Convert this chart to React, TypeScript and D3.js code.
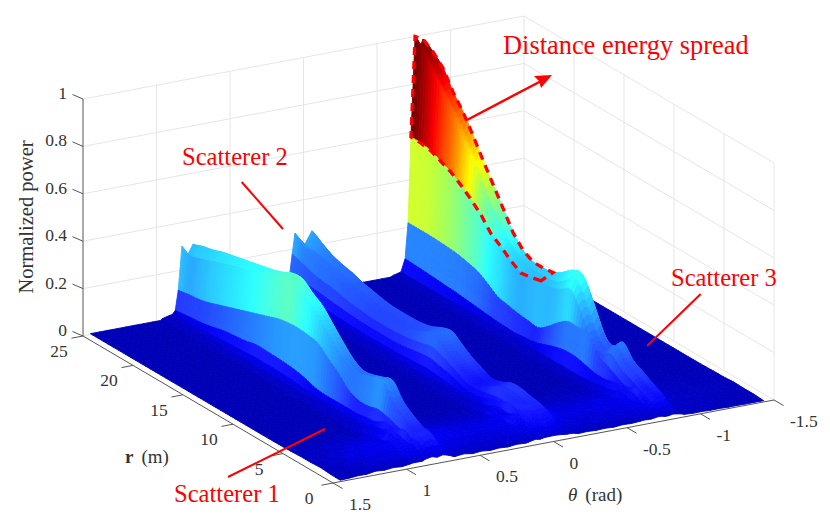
import { useEffect, useRef } from 'react'
import * as d3 from 'd3'

const rTicks = [0, 5, 10, 15, 20, 25]
const thetaTicks = [1.5, 1, 0.5, 0, -0.5, -1, -1.5]
const powerTicks = [0, 0.2, 0.4, 0.6, 0.8, 1]
const thetaTickLabels = ['1.5', '1', '0.5', '0', '-0.5', '-1', '-1.5']

// every profile below is one value per metre, r = 0 ... 25
const rGrid = [0, 1, 2, 3, 4, 5, 6, 7, 8, 9, 10, 11, 12, 13, 14, 15, 16, 17, 18, 19, 20, 21, 22, 23, 24, 25]

const s3Back = [0.012, 0.06, 0.1, 0.125, 0.15, 0.2, 0.16, 0.194, 0.3, 0.384, 0.38, 0.346, 0.32, 0.315, 0.316, 0.34, 0.39, 0.468, 0.544, 0.62, 0.7, 0.774, 0.834, 0.91, 0.954, 0.983]
const s3Notch = [0.01, 0.05, 0.09, 0.115, 0.14, 0.185, 0.145, 0.175, 0.27, 0.36, 0.335, 0.305, 0.295, 0.295, 0.305, 0.325, 0.365, 0.425, 0.495, 0.59, 0.67, 0.75, 0.81, 0.87, 0.93, 0.935]
const s3Front = [0.01, 0.05, 0.09, 0.12, 0.145, 0.19, 0.15, 0.18, 0.28, 0.37, 0.34, 0.31, 0.3, 0.3, 0.31, 0.33, 0.37, 0.43, 0.5, 0.6, 0.68, 0.76, 0.82, 0.89, 0.955, 1]
const s3Upper = [0.01, 0.04, 0.075, 0.1, 0.12, 0.16, 0.135, 0.17, 0.26, 0.33, 0.31, 0.29, 0.295, 0.285, 0.278, 0.305, 0.34, 0.37, 0.425, 0.465, 0.5, 0.53, 0.55, 0.57, 0.578, 0.58]
const s3Mid = [0.01, 0.03, 0.055, 0.07, 0.085, 0.11, 0.13, 0.2, 0.2, 0.2, 0.17, 0.13, 0.1, 0.105, 0.11, 0.12, 0.13, 0.16, 0.187, 0.2, 0.21, 0.215, 0.218, 0.22, 0.22, 0.22]
const s3Lower = [0.008, 0.018, 0.03, 0.04, 0.045, 0.05, 0.055, 0.07, 0.08, 0.08, 0.07, 0.055, 0.04, 0.035, 0.03, 0.032, 0.035, 0.04, 0.045, 0.05, 0.055, 0.058, 0.062, 0.065, 0.068, 0.07]

const s2Back = [0.012, 0.03, 0.06, 0.105, 0.115, 0.115, 0.095, 0.085, 0.105, 0.125, 0.155, 0.185, 0.175, 0.155, 0.145, 0.142, 0.142, 0.143, 0.15, 0.16, 0.17, 0.185, 0.195, 0.21, 0.235, 0.262]
const s2Notch = [0.01, 0.026, 0.05, 0.095, 0.105, 0.105, 0.086, 0.077, 0.095, 0.115, 0.145, 0.175, 0.165, 0.145, 0.135, 0.132, 0.132, 0.133, 0.14, 0.15, 0.16, 0.175, 0.185, 0.195, 0.205, 0.21]
const s2Front = [0.012, 0.028, 0.055, 0.1, 0.11, 0.11, 0.09, 0.08, 0.1, 0.12, 0.15, 0.18, 0.17, 0.15, 0.14, 0.137, 0.137, 0.138, 0.145, 0.155, 0.165, 0.18, 0.19, 0.2, 0.215, 0.266]
const s2Upper = [0.01, 0.022, 0.045, 0.075, 0.085, 0.08, 0.07, 0.065, 0.08, 0.1, 0.12, 0.135, 0.125, 0.115, 0.108, 0.105, 0.105, 0.105, 0.11, 0.115, 0.125, 0.135, 0.14, 0.15, 0.165, 0.18]
const s2Mid = [0.008, 0.018, 0.035, 0.05, 0.055, 0.05, 0.045, 0.045, 0.055, 0.07, 0.08, 0.09, 0.085, 0.078, 0.072, 0.07, 0.07, 0.07, 0.072, 0.075, 0.08, 0.085, 0.09, 0.095, 0.1, 0.105]
const s2Lower = [0.006, 0.012, 0.02, 0.025, 0.028, 0.028, 0.025, 0.025, 0.03, 0.035, 0.04, 0.045, 0.043, 0.04, 0.038, 0.036, 0.036, 0.036, 0.037, 0.038, 0.04, 0.042, 0.044, 0.046, 0.05, 0.055]

const s1Back = [0.015, 0.06, 0.1, 0.125, 0.16, 0.22, 0.21, 0.195, 0.19, 0.215, 0.26, 0.31, 0.36, 0.39, 0.425, 0.425, 0.405, 0.39, 0.38, 0.37, 0.36, 0.35, 0.34, 0.325, 0.315, 0.3]
const s1Notch = [0.014, 0.055, 0.095, 0.12, 0.155, 0.215, 0.205, 0.19, 0.19, 0.215, 0.26, 0.31, 0.36, 0.39, 0.43, 0.42, 0.4, 0.38, 0.36, 0.345, 0.33, 0.315, 0.3, 0.285, 0.27, 0.255]
const s1Front = [0.015, 0.06, 0.1, 0.13, 0.165, 0.235, 0.22, 0.205, 0.2, 0.225, 0.27, 0.318, 0.365, 0.4, 0.44, 0.43, 0.41, 0.39, 0.37, 0.355, 0.34, 0.325, 0.31, 0.29, 0.27, 0.3]
const s1Upper = [0.012, 0.045, 0.07, 0.085, 0.1, 0.11, 0.1, 0.1, 0.12, 0.165, 0.2, 0.24, 0.25, 0.255, 0.253, 0.245, 0.23, 0.215, 0.2, 0.185, 0.17, 0.155, 0.14, 0.13, 0.125, 0.118]
const s1Mid = [0.01, 0.025, 0.04, 0.045, 0.05, 0.05, 0.05, 0.05, 0.05, 0.05, 0.05, 0.055, 0.07, 0.08, 0.085, 0.088, 0.09, 0.09, 0.08, 0.075, 0.07, 0.06, 0.05, 0.045, 0.04, 0.035]
const s1Lower = [0.008, 0.016, 0.025, 0.028, 0.03, 0.03, 0.03, 0.028, 0.028, 0.028, 0.028, 0.03, 0.035, 0.04, 0.042, 0.044, 0.044, 0.044, 0.04, 0.038, 0.035, 0.03, 0.027, 0.025, 0.022, 0.02]

const footLevel = [0.008, 0.014, 0.018, 0.02, 0.022, 0.022, 0.022, 0.022, 0.022, 0.022, 0.02, 0.02, 0.02, 0.02, 0.02, 0.02, 0.02, 0.02, 0.02, 0.02, 0.018, 0.018, 0.018, 0.018, 0.018, 0.018]
const toeLevel = [0.006, 0.008, 0.01, 0.01, 0.01, 0.01, 0.01, 0.01, 0.01, 0.01, 0.01, 0.01, 0.01, 0.01, 0.01, 0.01, 0.01, 0.01, 0.01, 0.01, 0.01, 0.01, 0.01, 0.01, 0.01, 0.01]
const floorLevel = 0.004

// near-field ripple across theta, theta = -1.43 ... 1.45
const rippleEven = [0.004, 0.006, 0.005, 0.008, 0.006, 0.012, 0.01, 0.016, 0.014, 0.022, 0.03, 0.024, 0.038, 0.03, 0.042, 0.034, 0.04, 0.028, 0.036, 0.03, 0.038, 0.032, 0.046, 0.036, 0.05, 0.04, 0.052, 0.036, 0.044, 0.03, 0.04, 0.028, 0.042, 0.03, 0.05, 0.036, 0.056, 0.04, 0.058, 0.044, 0.05, 0.034, 0.044, 0.03, 0.04, 0.02, 0.022, 0.012, 0.006]
const rippleOdd = [0.006, 0.004, 0.008, 0.005, 0.011, 0.008, 0.015, 0.011, 0.02, 0.016, 0.024, 0.034, 0.026, 0.04, 0.03, 0.044, 0.03, 0.038, 0.026, 0.036, 0.028, 0.044, 0.03, 0.05, 0.034, 0.054, 0.036, 0.048, 0.028, 0.042, 0.026, 0.04, 0.028, 0.048, 0.032, 0.054, 0.036, 0.06, 0.04, 0.054, 0.036, 0.048, 0.03, 0.042, 0.024, 0.028, 0.012, 0.014, 0.004]
const rippleByRange = [0.3, 0.7, 1, 0.9, 0.6, 0.3, 0.1]

const s1Theta = 0.752
const s2Theta = -0.058
const s3Theta = -0.813
const s1Offsets = [0.075, 0.04, 0.1, 0.12, 0.14, 0.16, 0.21]
const s2Offsets = [0.116, 0.05, 0.135, 0.15, 0.163, 0.18, 0.23]
const s3Offsets = [0.054, 0.03, 0.082, 0.102, 0.122, 0.15, 0.2]

const surfaceThetaMin = -1.43
const surfaceThetaMax = 1.45
const floorStep = 0.06

const corner = { x: 333, y: 483 }
const thetaAxis = d3.scaleLinear().domain([1.5, -1.5]).range([0, 1])
const rAxis = d3.scaleLinear().domain([0, 25]).range([0, 1])
const powerAxis = d3.scaleLinear().domain([0, 1]).range([0, 237])
const thetaVec = { x: 441, y: -83 }
const rVec = { x: -250, y: -147 }

const project = (theta: number, r: number, z: number): [number, number] => {
  const t = thetaAxis(theta)
  const q = rAxis(r)
  return [corner.x + t * thetaVec.x + q * rVec.x, corner.y + t * thetaVec.y + q * rVec.y - powerAxis(z)]
}

const jet = d3
  .scaleLinear<string>()
  .domain([0, 0.125, 0.375, 0.625, 0.875, 1])
  .range(['#000080', '#0000ff', '#00ffff', '#ffff00', '#ff0000', '#700000'])
  .clamp(true)
const colorValue = d3.scaleLinear().domain([0, 0.02, 0.05, 0.1, 0.3, 1]).range([0.05, 0.07, 0.11, 0.135, 0.3, 1])
const whiteMix = d3.scaleLinear().domain([0.05, 0.12, 0.4, 0.55]).range([0, 0.14, 0.18, 0]).clamp(true)

const faceColor = (z: number) => d3.interpolateRgb(jet(colorValue(z)), '#ffffff')(whiteMix(z))

type Column = { theta: number; level: number[] | null }

function ridgeColumns(theta: number, o: number[], back: number[], notch: number[], front: number[], upper: number[], mid: number[], lower: number[]): Column[] {
  return [
    { theta: theta - 0.07, level: toeLevel },
    { theta: theta - 0.04, level: lower },
    { theta: theta - 0.018, level: upper },
    { theta, level: back },
    { theta: theta + o[1], level: notch },
    { theta: theta + o[0], level: front },
    { theta: theta + o[2], level: upper },
    { theta: theta + o[3], level: mid },
    { theta: theta + o[4], level: lower },
    { theta: theta + o[5], level: footLevel },
    { theta: theta + o[6], level: toeLevel },
  ]
}

const ridges = [
  ridgeColumns(s1Theta, s1Offsets, s1Back, s1Notch, s1Front, s1Upper, s1Mid, s1Lower),
  ridgeColumns(s2Theta, s2Offsets, s2Back, s2Notch, s2Front, s2Upper, s2Mid, s2Lower),
  ridgeColumns(s3Theta, s3Offsets, s3Back, s3Notch, s3Front, s3Upper, s3Mid, s3Lower),
]

const floorColumns: Column[] = d3
  .range(surfaceThetaMin, surfaceThetaMax + 0.001, floorStep)
  .filter((t) => !ridges.some((cols) => t >= cols[0].theta && t <= cols[cols.length - 1].theta))
  .map((theta) => ({ theta, level: null }))

const columns = [...floorColumns, ...ridges.flat()].sort((a, b) => a.theta - b.theta)

function heightAt(col: Column, rowIdx: number) {
  const row = Math.max(0, Math.min(rGrid.length - 1, rowIdx))
  const base = col.level ? col.level[row] : floorLevel
  if (row >= rippleByRange.length || base > 0.06) return base
  const idx = Math.max(0, Math.min(rippleEven.length - 1, Math.round((col.theta - surfaceThetaMin) / floorStep)))
  const ripple = row % 2 ? rippleOdd[idx] : rippleEven[idx]
  return base + ripple * rippleByRange[row]
}

// smooth drawing between the rows, the rows themselves stay as read
function heightBetween(col: Column, j: number, f: number) {
  const p0 = heightAt(col, j - 1)
  const p1 = heightAt(col, j)
  const p2 = heightAt(col, j + 1)
  const p3 = heightAt(col, j + 2)
  const v = 0.5 * (2 * p1 + (p2 - p0) * f + (2 * p0 - 5 * p1 + 4 * p2 - p3) * f * f + (3 * p1 - p0 - 3 * p2 + p3) * f * f * f)
  return Math.max(0.002, v)
}

const SurfaceChart = () => {
  const svgRef = useRef<SVGSVGElement>(null)

  useEffect(() => {
    if (!svgRef.current) return
    const svg = d3.select(svgRef.current)
    svg.selectAll('*').remove()

    const line = d3.line()
    const gridColor = '#e6e6e6'
    const axisColor = '#555555'

    // back walls
    const walls = svg.append('g').attr('stroke', gridColor).attr('fill', 'none')
    powerTicks.forEach((p) => {
      walls.append('path').attr('d', line([project(1.5, 25, p), project(-1.5, 25, p), project(-1.5, 0, p)]))
    })
    thetaTicks.slice(1).forEach((t) => {
      walls.append('path').attr('d', line([project(t, 25, 0), project(t, 25, 1)]))
    })
    rTicks.slice(1, -1).concat(0).forEach((r) => {
      walls.append('path').attr('d', line([project(-1.5, r, 0), project(-1.5, r, 1)]))
    })

    // surface, far to near
    const surface = svg.append('g')
    for (let j = rGrid.length - 2; j >= 0; j--) {
      const steps = 4
      for (let s = steps - 1; s >= 0; s--) {
        const f0 = s / steps
        const f1 = (s + 1) / steps
        const fm = (f0 + f1) / 2
        const r0 = rGrid[j] + f0
        const r1 = rGrid[j] + f1
        for (let i = 0; i < columns.length - 1; i++) {
          const a = columns[i]
          const b = columns[i + 1]
          const top = Math.max(heightBetween(a, j, fm), heightBetween(b, j, fm))
          const color = faceColor(top)
          surface
            .append('path')
            .attr('d', line([project(a.theta, r0, heightBetween(a, j, f0)), project(b.theta, r0, heightBetween(b, j, f0)), project(b.theta, r1, heightBetween(b, j, f1)), project(a.theta, r1, heightBetween(a, j, f1))]) + 'Z')
            .attr('fill', color)
            .attr('stroke', color)
            .attr('stroke-width', 0.9)
            .attr('stroke-linejoin', 'round')
        }
      }
    }

    // axes
    const axes = svg.append('g').attr('stroke', axisColor).attr('fill', 'none')
    axes.append('path').attr('d', line([project(1.5, 25, 1), project(1.5, 25, 0), project(1.5, 0, 0), project(-1.5, 0, 0)]))
    powerTicks.forEach((p) => {
      const [x, y] = project(1.5, 25, p)
      axes.append('path').attr('d', line([[x, y], [x - 10.5, y - 4.5]]))
    })
    rTicks.forEach((r) => {
      const [x, y] = project(1.5, r, 0)
      axes.append('path').attr('d', line([[x, y], [x - 11.5, y + 2.2]]))
    })
    thetaTicks.forEach((t) => {
      const [x, y] = project(t, 0, 0)
      axes.append('path').attr('d', line([[x, y], [x + 9.5, y + 5.5]]))
    })

    const labels = svg.append('g').style('font-family', '"Liberation Serif", serif').style('font-size', '17.5px').attr('fill', '#333333')
    powerTicks.forEach((p) => {
      const [x, y] = project(1.5, 25, p)
      labels.append('text').attr('x', x - 16).attr('y', y + 0).attr('text-anchor', 'end').text(String(p))
    })
    rTicks.forEach((r) => {
      const [x, y] = project(1.5, r, 0)
      labels.append('text').attr('x', x - 24).attr('y', y + 21).attr('text-anchor', 'middle').text(String(r))
    })
    thetaTicks.forEach((t, i) => {
      const [x, y] = project(t, 0, 0)
      labels.append('text').attr('x', x + 16).attr('y', y + 27).text(thetaTickLabels[i])
    })
    labels
      .append('text')
      .attr('transform', 'translate(33,217) rotate(-90)')
      .attr('text-anchor', 'middle')
      .style('font-size', '20.5px')
      .text('Normalized power')
    const rLabel = labels.append('text').attr('x', 125).attr('y', 463).style('font-size', '19px')
    rLabel.append('tspan').style('font-weight', 700).text('r')
    rLabel.append('tspan').attr('dx', 8).text('(m)')
    const thetaLabel = labels.append('text').attr('x', 568).attr('y', 501).style('font-size', '19px')
    thetaLabel.append('tspan').style('font-style', 'italic').text('θ')
    thetaLabel.append('tspan').attr('dx', 8).text('(rad)')

    // annotations
    const notes = svg.append('g').attr('stroke', '#ff0000').attr('fill', 'none').attr('stroke-width', 2)
    notes.append('path').attr('d', line([[241.7, 182], [283, 229]]))
    notes.append('path').attr('d', line([[228, 477], [325, 429]]))
    notes.append('path').attr('d', line([[700.7, 294], [647, 346]]))
    notes.append('path').attr('d', line([[467, 120], [545, 79]])).attr('stroke-width', 2.5)
    notes.append('path').attr('d', 'M552,75 L534,76 L539,81 L541,88 Z').attr('fill', '#ff0000').attr('stroke', 'none')

    // distance energy spread outline follows the third ridge
    const spreadRows = rGrid.filter((r) => r >= 12)
    const outline = [
      ...spreadRows.map((r) => project(s3Theta + s3Offsets[2], r, s3Upper[r])),
      project(s3Theta + s3Offsets[0], 25, s3Front[25]),
      ...spreadRows.slice().reverse().map((r) => project(s3Theta, r, s3Back[r])),
    ]
    svg
      .append('path')
      .attr('d', line(outline) + 'Z')
      .attr('fill', 'none')
      .attr('stroke', '#ff0000')
      .attr('stroke-width', 3.3)
      .attr('stroke-dasharray', '8 6')

    const red = svg.append('g').style('font-family', '"Liberation Serif", serif').attr('fill', '#ff0000')
    red.append('text').attr('x', 503).attr('y', 54).style('font-size', '26.4px').text('Distance energy spread')
    red.append('text').attr('x', 182).attr('y', 165).style('font-size', '24.6px').text('Scatterer 2')
    red.append('text').attr('x', 671).attr('y', 286).style('font-size', '24.6px').text('Scatterer 3')
    red.append('text').attr('x', 174).attr('y', 502).style('font-size', '24.6px').text('Scatterer 1')
  }, [])

  return <svg ref={svgRef} width={830} height={530} style={{ position: 'absolute', left: 0, top: 0, background: '#fff' }} />
}

export default SurfaceChart
